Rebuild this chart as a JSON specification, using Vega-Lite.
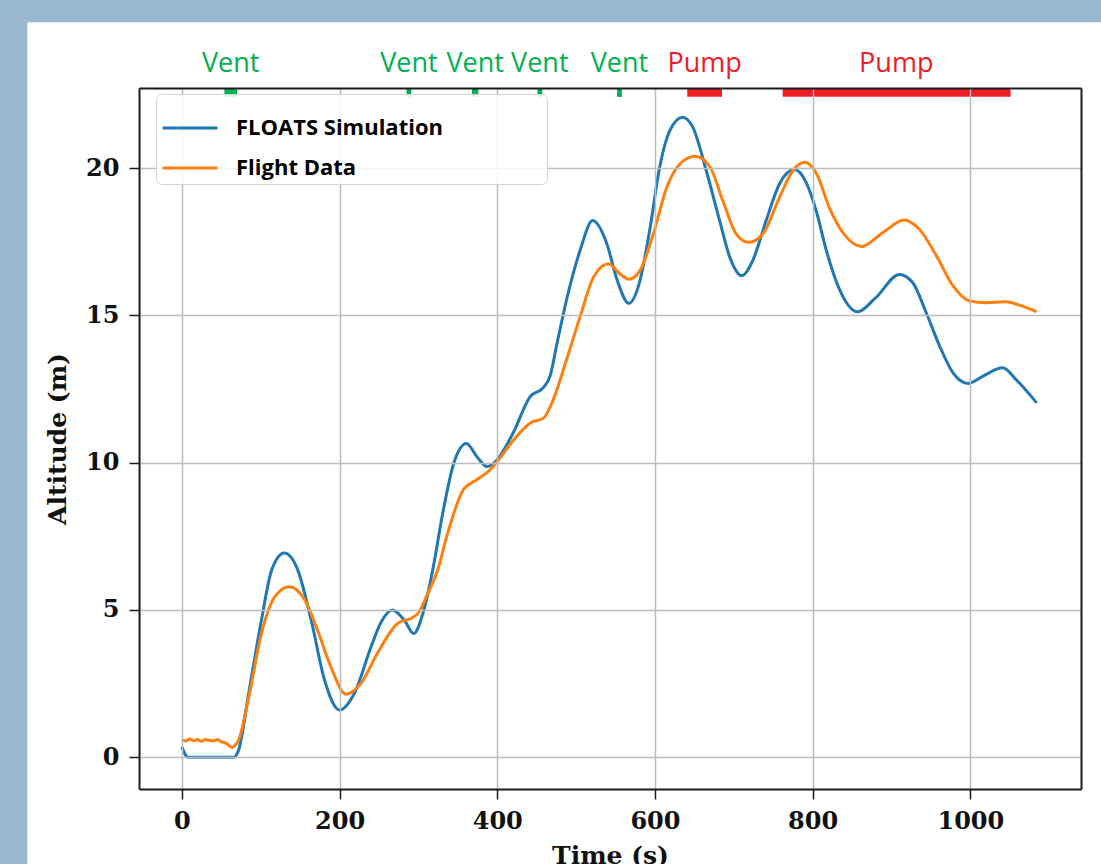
{
  "$schema": "https://vega.github.io/schema/vega-lite/v6.json",
  "width": 942,
  "height": 701,
  "autosize": "none",
  "padding": {"left": 139, "top": 88, "right": 20, "bottom": 75},
  "background": "#98b8cd",
  "config": {
    "view": {"stroke": null},
    "axis": {
      "domainColor": "#1a1a1a",
      "domainWidth": 2,
      "tickColor": "#1a1a1a",
      "tickWidth": 1.5,
      "tickSize": 10,
      "gridColor": "#bbbbbb",
      "gridWidth": 1.5,
      "labelFont": "DejaVu Serif",
      "labelFontWeight": "bold",
      "labelFontSize": 24,
      "labelColor": "#111111",
      "titleFont": "DejaVu Serif",
      "titleFontWeight": "bold",
      "titleFontSize": 25,
      "titleColor": "#111111"
    }
  },
  "datasets": {
    "series": [
      {"series": "FLOATS Simulation", "t": 0, "alt": 0.35},
      {"series": "FLOATS Simulation", "t": 8, "alt": 0.0},
      {"series": "FLOATS Simulation", "t": 25, "alt": 0.0},
      {"series": "FLOATS Simulation", "t": 45, "alt": 0.0},
      {"series": "FLOATS Simulation", "t": 66, "alt": 0.0},
      {"series": "FLOATS Simulation", "t": 72, "alt": 0.24},
      {"series": "FLOATS Simulation", "t": 85, "alt": 2.2},
      {"series": "FLOATS Simulation", "t": 101, "alt": 4.66},
      {"series": "FLOATS Simulation", "t": 114, "alt": 6.36},
      {"series": "FLOATS Simulation", "t": 130, "alt": 6.93},
      {"series": "FLOATS Simulation", "t": 147, "alt": 6.36},
      {"series": "FLOATS Simulation", "t": 164, "alt": 4.66},
      {"series": "FLOATS Simulation", "t": 181, "alt": 2.62},
      {"series": "FLOATS Simulation", "t": 200, "alt": 1.6},
      {"series": "FLOATS Simulation", "t": 219, "alt": 2.18},
      {"series": "FLOATS Simulation", "t": 240, "alt": 3.75},
      {"series": "FLOATS Simulation", "t": 252, "alt": 4.55},
      {"series": "FLOATS Simulation", "t": 267, "alt": 5.0},
      {"series": "FLOATS Simulation", "t": 282, "alt": 4.66},
      {"series": "FLOATS Simulation", "t": 294, "alt": 4.2},
      {"series": "FLOATS Simulation", "t": 307, "alt": 5.0},
      {"series": "FLOATS Simulation", "t": 319, "alt": 6.47},
      {"series": "FLOATS Simulation", "t": 331, "alt": 8.3},
      {"series": "FLOATS Simulation", "t": 345, "alt": 9.99},
      {"series": "FLOATS Simulation", "t": 361, "alt": 10.65},
      {"series": "FLOATS Simulation", "t": 374, "alt": 10.21},
      {"series": "FLOATS Simulation", "t": 387, "alt": 9.87},
      {"series": "FLOATS Simulation", "t": 400, "alt": 10.1},
      {"series": "FLOATS Simulation", "t": 420, "alt": 11.0},
      {"series": "FLOATS Simulation", "t": 442, "alt": 12.25},
      {"series": "FLOATS Simulation", "t": 458, "alt": 12.54},
      {"series": "FLOATS Simulation", "t": 467, "alt": 12.94},
      {"series": "FLOATS Simulation", "t": 476, "alt": 14.07},
      {"series": "FLOATS Simulation", "t": 488, "alt": 15.54},
      {"series": "FLOATS Simulation", "t": 505, "alt": 17.2},
      {"series": "FLOATS Simulation", "t": 521, "alt": 18.22},
      {"series": "FLOATS Simulation", "t": 539, "alt": 17.43},
      {"series": "FLOATS Simulation", "t": 551, "alt": 16.29},
      {"series": "FLOATS Simulation", "t": 567, "alt": 15.41},
      {"series": "FLOATS Simulation", "t": 581, "alt": 16.18},
      {"series": "FLOATS Simulation", "t": 594, "alt": 18.0},
      {"series": "FLOATS Simulation", "t": 606, "alt": 20.03},
      {"series": "FLOATS Simulation", "t": 619, "alt": 21.28},
      {"series": "FLOATS Simulation", "t": 635, "alt": 21.73},
      {"series": "FLOATS Simulation", "t": 648, "alt": 21.39},
      {"series": "FLOATS Simulation", "t": 665, "alt": 19.92},
      {"series": "FLOATS Simulation", "t": 682, "alt": 18.22},
      {"series": "FLOATS Simulation", "t": 695, "alt": 16.97},
      {"series": "FLOATS Simulation", "t": 710, "alt": 16.35},
      {"series": "FLOATS Simulation", "t": 724, "alt": 16.86},
      {"series": "FLOATS Simulation", "t": 741, "alt": 18.22},
      {"series": "FLOATS Simulation", "t": 758, "alt": 19.47},
      {"series": "FLOATS Simulation", "t": 777, "alt": 19.95},
      {"series": "FLOATS Simulation", "t": 792, "alt": 19.5},
      {"series": "FLOATS Simulation", "t": 805, "alt": 18.5},
      {"series": "FLOATS Simulation", "t": 817, "alt": 17.24},
      {"series": "FLOATS Simulation", "t": 834, "alt": 15.88},
      {"series": "FLOATS Simulation", "t": 857, "alt": 15.12},
      {"series": "FLOATS Simulation", "t": 880, "alt": 15.6},
      {"series": "FLOATS Simulation", "t": 910, "alt": 16.39},
      {"series": "FLOATS Simulation", "t": 927, "alt": 16.11},
      {"series": "FLOATS Simulation", "t": 944, "alt": 15.09},
      {"series": "FLOATS Simulation", "t": 961, "alt": 13.96},
      {"series": "FLOATS Simulation", "t": 978, "alt": 13.05},
      {"series": "FLOATS Simulation", "t": 997, "alt": 12.69},
      {"series": "FLOATS Simulation", "t": 1016, "alt": 12.94},
      {"series": "FLOATS Simulation", "t": 1041, "alt": 13.22},
      {"series": "FLOATS Simulation", "t": 1058, "alt": 12.82},
      {"series": "FLOATS Simulation", "t": 1084, "alt": 12.03},
      {"series": "Flight Data", "t": 0, "alt": 0.6},
      {"series": "Flight Data", "t": 5, "alt": 0.55},
      {"series": "Flight Data", "t": 10, "alt": 0.62},
      {"series": "Flight Data", "t": 15, "alt": 0.56},
      {"series": "Flight Data", "t": 20, "alt": 0.6},
      {"series": "Flight Data", "t": 25, "alt": 0.54},
      {"series": "Flight Data", "t": 30, "alt": 0.6},
      {"series": "Flight Data", "t": 35, "alt": 0.57},
      {"series": "Flight Data", "t": 40, "alt": 0.55},
      {"series": "Flight Data", "t": 45, "alt": 0.6},
      {"series": "Flight Data", "t": 50, "alt": 0.52},
      {"series": "Flight Data", "t": 55, "alt": 0.49},
      {"series": "Flight Data", "t": 60, "alt": 0.4},
      {"series": "Flight Data", "t": 64, "alt": 0.33},
      {"series": "Flight Data", "t": 68, "alt": 0.42},
      {"series": "Flight Data", "t": 72, "alt": 0.58},
      {"series": "Flight Data", "t": 85, "alt": 2.05},
      {"series": "Flight Data", "t": 101, "alt": 4.2},
      {"series": "Flight Data", "t": 118, "alt": 5.45},
      {"series": "Flight Data", "t": 136, "alt": 5.79},
      {"series": "Flight Data", "t": 156, "alt": 5.34},
      {"series": "Flight Data", "t": 172, "alt": 4.32},
      {"series": "Flight Data", "t": 189, "alt": 3.07},
      {"series": "Flight Data", "t": 208, "alt": 2.14},
      {"series": "Flight Data", "t": 227, "alt": 2.5},
      {"series": "Flight Data", "t": 248, "alt": 3.53},
      {"series": "Flight Data", "t": 274, "alt": 4.55},
      {"series": "Flight Data", "t": 291, "alt": 4.72},
      {"series": "Flight Data", "t": 300, "alt": 4.9},
      {"series": "Flight Data", "t": 311, "alt": 5.5},
      {"series": "Flight Data", "t": 325, "alt": 6.4},
      {"series": "Flight Data", "t": 336, "alt": 7.5},
      {"series": "Flight Data", "t": 357, "alt": 9.08},
      {"series": "Flight Data", "t": 374, "alt": 9.42},
      {"series": "Flight Data", "t": 391, "alt": 9.76},
      {"series": "Flight Data", "t": 400, "alt": 10.04},
      {"series": "Flight Data", "t": 421, "alt": 10.78},
      {"series": "Flight Data", "t": 442, "alt": 11.35},
      {"series": "Flight Data", "t": 459, "alt": 11.52},
      {"series": "Flight Data", "t": 471, "alt": 12.14},
      {"series": "Flight Data", "t": 488, "alt": 13.5},
      {"series": "Flight Data", "t": 505, "alt": 14.95},
      {"series": "Flight Data", "t": 522, "alt": 16.29},
      {"series": "Flight Data", "t": 541, "alt": 16.75},
      {"series": "Flight Data", "t": 556, "alt": 16.4},
      {"series": "Flight Data", "t": 567, "alt": 16.23},
      {"series": "Flight Data", "t": 581, "alt": 16.52},
      {"series": "Flight Data", "t": 598, "alt": 17.77},
      {"series": "Flight Data", "t": 615, "alt": 19.35},
      {"series": "Flight Data", "t": 632, "alt": 20.15},
      {"series": "Flight Data", "t": 651, "alt": 20.4},
      {"series": "Flight Data", "t": 670, "alt": 20.03},
      {"series": "Flight Data", "t": 686, "alt": 18.9},
      {"series": "Flight Data", "t": 703, "alt": 17.77},
      {"series": "Flight Data", "t": 719, "alt": 17.48},
      {"series": "Flight Data", "t": 737, "alt": 17.77},
      {"series": "Flight Data", "t": 758, "alt": 19.01},
      {"series": "Flight Data", "t": 775, "alt": 19.92},
      {"series": "Flight Data", "t": 790, "alt": 20.2},
      {"series": "Flight Data", "t": 805, "alt": 19.81},
      {"series": "Flight Data", "t": 821, "alt": 18.67},
      {"series": "Flight Data", "t": 840, "alt": 17.75},
      {"series": "Flight Data", "t": 862, "alt": 17.34},
      {"series": "Flight Data", "t": 889, "alt": 17.81},
      {"series": "Flight Data", "t": 916, "alt": 18.24},
      {"series": "Flight Data", "t": 935, "alt": 17.93},
      {"series": "Flight Data", "t": 957, "alt": 17.02},
      {"series": "Flight Data", "t": 978, "alt": 16.0},
      {"series": "Flight Data", "t": 999, "alt": 15.49},
      {"series": "Flight Data", "t": 1020, "alt": 15.43},
      {"series": "Flight Data", "t": 1045, "alt": 15.46},
      {"series": "Flight Data", "t": 1062, "alt": 15.35},
      {"series": "Flight Data", "t": 1084, "alt": 15.13}
    ],
    "events": [
      {"kind": "Vent", "start": 54, "end": 70, "mid": 62},
      {"kind": "Vent", "start": 285, "end": 291, "mid": 288},
      {"kind": "Vent", "start": 368, "end": 376, "mid": 372},
      {"kind": "Vent", "start": 451, "end": 457, "mid": 454},
      {"kind": "Vent", "start": 552, "end": 558, "mid": 555},
      {"kind": "Pump", "start": 641, "end": 685, "mid": 663},
      {"kind": "Pump", "start": 762, "end": 1051, "mid": 906}
    ]
  },
  "resolve": {"axis": {"x": "independent", "y": "independent"}},
  "layer": [
    {
      "data": {"values": [{}]},
      "mark": {"type": "rect", "fill": "#ffffff", "clip": false},
      "encoding": {
        "x": {"datum": -196, "type": "quantitative", "scale": {"domain": [-54.3, 1140.3], "nice": false, "zero": false}, "axis": null},
        "x2": {"datum": 1400},
        "y": {"datum": -6, "type": "quantitative", "scale": {"domain": [-1.08, 22.72], "nice": false, "zero": false}, "axis": null},
        "y2": {"datum": 24.95}
      }
    },
    {
      "data": {"name": "series"},
      "mark": {"type": "line", "strokeWidth": 3, "interpolate": "monotone"},
      "encoding": {
        "x": {
          "field": "t", "type": "quantitative",
          "scale": {"domain": [-54.3, 1140.3], "nice": false, "zero": false},
          "axis": {"orient": "bottom", "zindex": 1, "values": [0, 200, 400, 600, 800, 1000], "format": "d", "title": "Time (s)", "grid": true, "labelPadding": 10, "titlePadding": 10}
        },
        "y": {
          "field": "alt", "type": "quantitative",
          "scale": {"domain": [-1.08, 22.72], "nice": false, "zero": false},
          "axis": {"orient": "left", "zindex": 1, "values": [0, 5, 10, 15, 20], "format": "d", "title": "Altitude (m)", "grid": true, "labelPadding": 10, "titlePadding": 15}
        },
        "color": {
          "field": "series", "type": "nominal",
          "scale": {"domain": ["FLOATS Simulation", "Flight Data"], "range": ["#1f77b4", "#ff7f0e"]},
          "legend": {
            "orient": "none", "legendX": 17, "legendY": 6, "zindex": 2,
            "title": " ", "titleOrient": "right", "titlePadding": 99,
            "symbolType": "stroke", "symbolSize": 3025, "symbolStrokeWidth": 3,
            "labelFont": "Open Sans", "labelFontWeight": "bold", "labelFontSize": 22, "labelColor": "#000000",
            "labelLimit": 400,
            "labelOffset": 17, "fillColor": "rgba(255,255,255,0.85)", "strokeColor": "#d3d3d3",
            "cornerRadius": 6, "padding": 5, "rowPadding": -2
          }
        },
        "detail": {"field": "series"}
      }
    },
    {
      "data": {"name": "events"},
      "mark": {"type": "rect"},
      "encoding": {
        "x": {
          "field": "start", "type": "quantitative",
          "scale": {"domain": [-54.3, 1140.3], "nice": false, "zero": false},
          "axis": {"orient": "top", "zindex": 1, "grid": false, "labels": false, "ticks": false, "title": null, "domain": true}
        },
        "x2": {"field": "end"},
        "y": {
          "datum": 22.42, "type": "quantitative",
          "scale": {"domain": [-1.08, 22.72], "nice": false, "zero": false},
          "axis": {"orient": "right", "zindex": 1, "grid": false, "labels": false, "ticks": false, "title": null, "domain": true}
        },
        "y2": {"datum": 22.72},
        "fill": {"field": "kind", "type": "nominal", "scale": {"domain": ["Vent", "Pump"], "range": ["#00b050", "#ee1c25"]}, "legend": null}
      }
    },
    {
      "data": {"name": "events"},
      "mark": {"type": "text", "font": "Open Sans", "fontSize": 27, "baseline": "alphabetic", "align": "center"},
      "encoding": {
        "x": {"field": "mid", "type": "quantitative", "scale": {"domain": [-54.3, 1140.3], "nice": false, "zero": false}, "axis": null},
        "y": {"datum": 23.25, "type": "quantitative", "scale": {"domain": [-1.08, 22.72], "nice": false, "zero": false}, "axis": null},
        "text": {"field": "kind"},
        "fill": {"field": "kind", "type": "nominal", "scale": {"domain": ["Vent", "Pump"], "range": ["#00b050", "#ee1c25"]}, "legend": null}
      }
    }
  ]
}
